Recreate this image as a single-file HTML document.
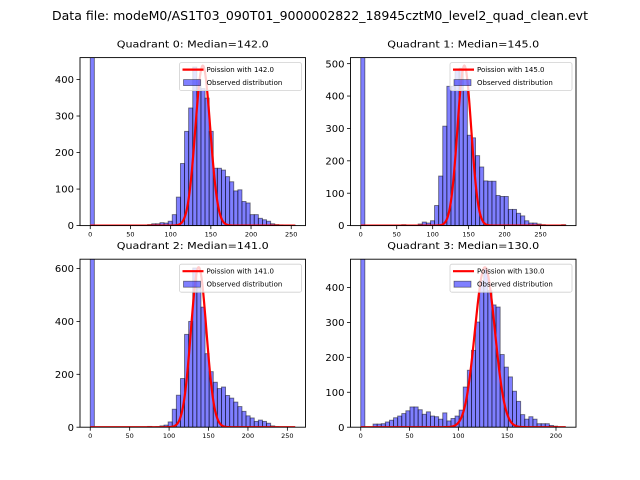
<!DOCTYPE html>
<html><head><meta charset="utf-8"><style>
html,body{margin:0;padding:0;background:#fff;}
svg{display:block;font-family:"DejaVu Sans","Liberation Sans",sans-serif;}
</style></head><body>
<svg id="fig" width="640" height="480" viewBox="0 0 640 480" xmlns="http://www.w3.org/2000/svg">
<rect x="0" y="0" width="640" height="480" fill="#fff"/>
<text x="320" y="20" text-anchor="middle" font-size="12" textLength="536" lengthAdjust="spacingAndGlyphs">Data file: modeM0/AS1T03_090T01_9000002822_18945cztM0_level2_quad_clean.evt</text>
</svg>
<script>
// ---- data ----
const quadrantNames = ["Quadrant 0", "Quadrant 1", "Quadrant 2", "Quadrant 3"];
const medians = [142.0, 145.0, 141.0, 130.0];
const rangeMax = [255, 285, 260, 210];
const q0Counts = [2000,0,0,0,0,0,0,0,0,0,0,0,0,0,3,5,5,8,7,12,30,78,170,258,322,434,400,375,349,258,157,157,152,134,120,95,98,66,62,30,30,20,16,12,5,3,2,1,0,1];
const q1Counts = [2000,0,0,0,0,0,0,0,0,0,3,0,0,0,5,11,8,15,62,153,307,430,430,484,486,417,279,271,216,181,138,137,137,93,90,90,50,50,38,30,15,8,8,5,3,2,2,1,1,3];
const q2Counts = [2000,0,0,0,0,0,0,0,0,0,0,0,0,0,3,0,2,5,8,20,68,121,184,351,400,602,526,454,278,210,170,146,152,120,110,95,78,60,43,35,22,27,22,15,5,2,1,0,0,0];
const q3Counts = [2000,0,0,9,9,10,15,20,27,32,39,47,58,58,50,37,44,32,30,23,41,18,25,32,49,115,163,220,301,420,455,391,350,344,208,172,144,103,74,36,23,30,23,10,10,10,5,3,0,0];
const fitCenter = [140, 144, 137.5, 127.2];
const fitSigma = [9.3, 9.6, 9.8, 10.2];
const fitPeak = [438, 494, 605, 458];
const xTickLabels = [[0,50,100,150,200,250],[0,50,100,150,200,250],[0,50,100,150,200,250],[0,50,100,150,200]];
const yTickLabels = [[0,100,200,300,400],[0,100,200,300,400,500],[0,200,400,600],[0,100,200,300,400]];
const allCounts = [q0Counts, q1Counts, q2Counts, q3Counts];

// ---- layout ----
const NS = "http://www.w3.org/2000/svg";
const svg = document.getElementById("fig");
const boxes = [[80,57.6,225.5,168],[350.5,57.6,225.5,168],[80,259.2,225.5,168],[350.5,259.2,225.5,168]];
function mk(tag, attrs, parent){ const e=document.createElementNS(NS,tag); for(const k in attrs) e.setAttribute(k,attrs[k]); (parent||svg).appendChild(e); return e; }

for (let q=0;q<4;q++){
  const [L,T,W,H]=boxes[q];
  const counts=allCounts[q];
  const nb=counts.length;
  const bw=rangeMax[q]/nb;
  const xmin=-0.05*rangeMax[q], xmax=1.05*rangeMax[q];
  const gauss = x => fitPeak[q]*Math.exp(-0.5*Math.pow((x-fitCenter[q])/fitSigma[q],2));
  let m=Math.max(...counts.slice(1), fitPeak[q]);
  const ymax=1.05*m;
  const X = v => L+(v-xmin)/(xmax-xmin)*W;
  const Y = v => T+H-(v/ymax)*H;

  const g=mk("g",{});
  
  
  const clipId='clip'+q;
  const cp=mk("clipPath",{id:clipId},g);
  mk("rect",{x:L,y:T,width:W,height:H},cp);

  const bars=mk("g",{"clip-path":"url(#"+clipId+")"},g);
  
  
  for(let i=0;i<nb;i++){
    if(counts[i]<=0) continue;
    const x0=X(i*bw), x1=X((i+1)*bw);
    const r=mk("rect",{x:x0,y:Y(counts[i]),width:x1-x0,height:Y(0)-Y(counts[i]),fill:"rgba(0,0,255,0.5)",stroke:"rgba(0,0,0,0.5)","stroke-width":"0.9"},bars);
    
    
  }
  let d="";
  for(let x=0;x<=rangeMax[q];x+=0.5){ d+=(x===0?"M":"L")+X(x).toFixed(2)+","+Y(gauss(x)).toFixed(2); }
  const line=mk("path",{d:d,fill:"none",stroke:"#ff0000","stroke-width":"2.2","clip-path":"url(#"+clipId+")"},g);
  
  

  const frame=mk("rect",{x:L,y:T,width:W,height:H,fill:"none",stroke:"#000","stroke-width":"0.9"},g);
  
  

  xTickLabels[q].forEach(v=>{
    const x=X(v);
    const t=mk("line",{x1:x,y1:T+H,x2:x,y2:T+H+3.5,stroke:"#000","stroke-width":"0.8"},g);
    
    
    const lb=mk("text",{x:x,y:T+H+11,"text-anchor":"middle","font-size":"6.5"},g);
    lb.textContent=v;
    
    
  });
  yTickLabels[q].forEach(v=>{
    const y=Y(v);
    const t=mk("line",{x1:L-3.5,y1:y,x2:L,y2:y,stroke:"#000","stroke-width":"0.8"},g);
    
    
    const lb=mk("text",{x:L-6,y:y+3.6,"text-anchor":"end","font-size":"10"},g);
    lb.textContent=v;
    
    
  });

  const title=mk("text",{x:L+W/2,y:T-10,"text-anchor":"middle","font-size":"9.5",textLength:"152",lengthAdjust:"spacingAndGlyphs"},g);
  title.textContent=quadrantNames[q]+": Median="+medians[q].toFixed(1);
  
  

  const lg=mk("g",{},g);
  
  
  const lx=L+W-126, ly=T+5;
  mk("rect",{x:lx,y:ly,width:122,height:28,rx:2,fill:"rgba(255,255,255,0.8)",stroke:"#d0d0d0","stroke-width":"0.8"},lg);
  const ll=mk("line",{x1:lx+3,y1:ly+7,x2:lx+24,y2:ly+7,stroke:"#ff0000","stroke-width":"2.2"},lg);
  
  
  const t1=mk("text",{x:lx+27,y:ly+9.5,"font-size":"7"},lg);
  t1.textContent="Poission with "+medians[q].toFixed(1);
  
  
  const pr=mk("rect",{x:lx+4,y:ly+17,width:17,height:6,fill:"rgba(0,0,255,0.5)",stroke:"rgba(0,0,0,0.5)","stroke-width":"0.8"},lg);
  
  
  const t2=mk("text",{x:lx+27,y:ly+22.5,"font-size":"7"},lg);
  t2.textContent="Observed distribution";
  
  
}
</script>
</body></html>
